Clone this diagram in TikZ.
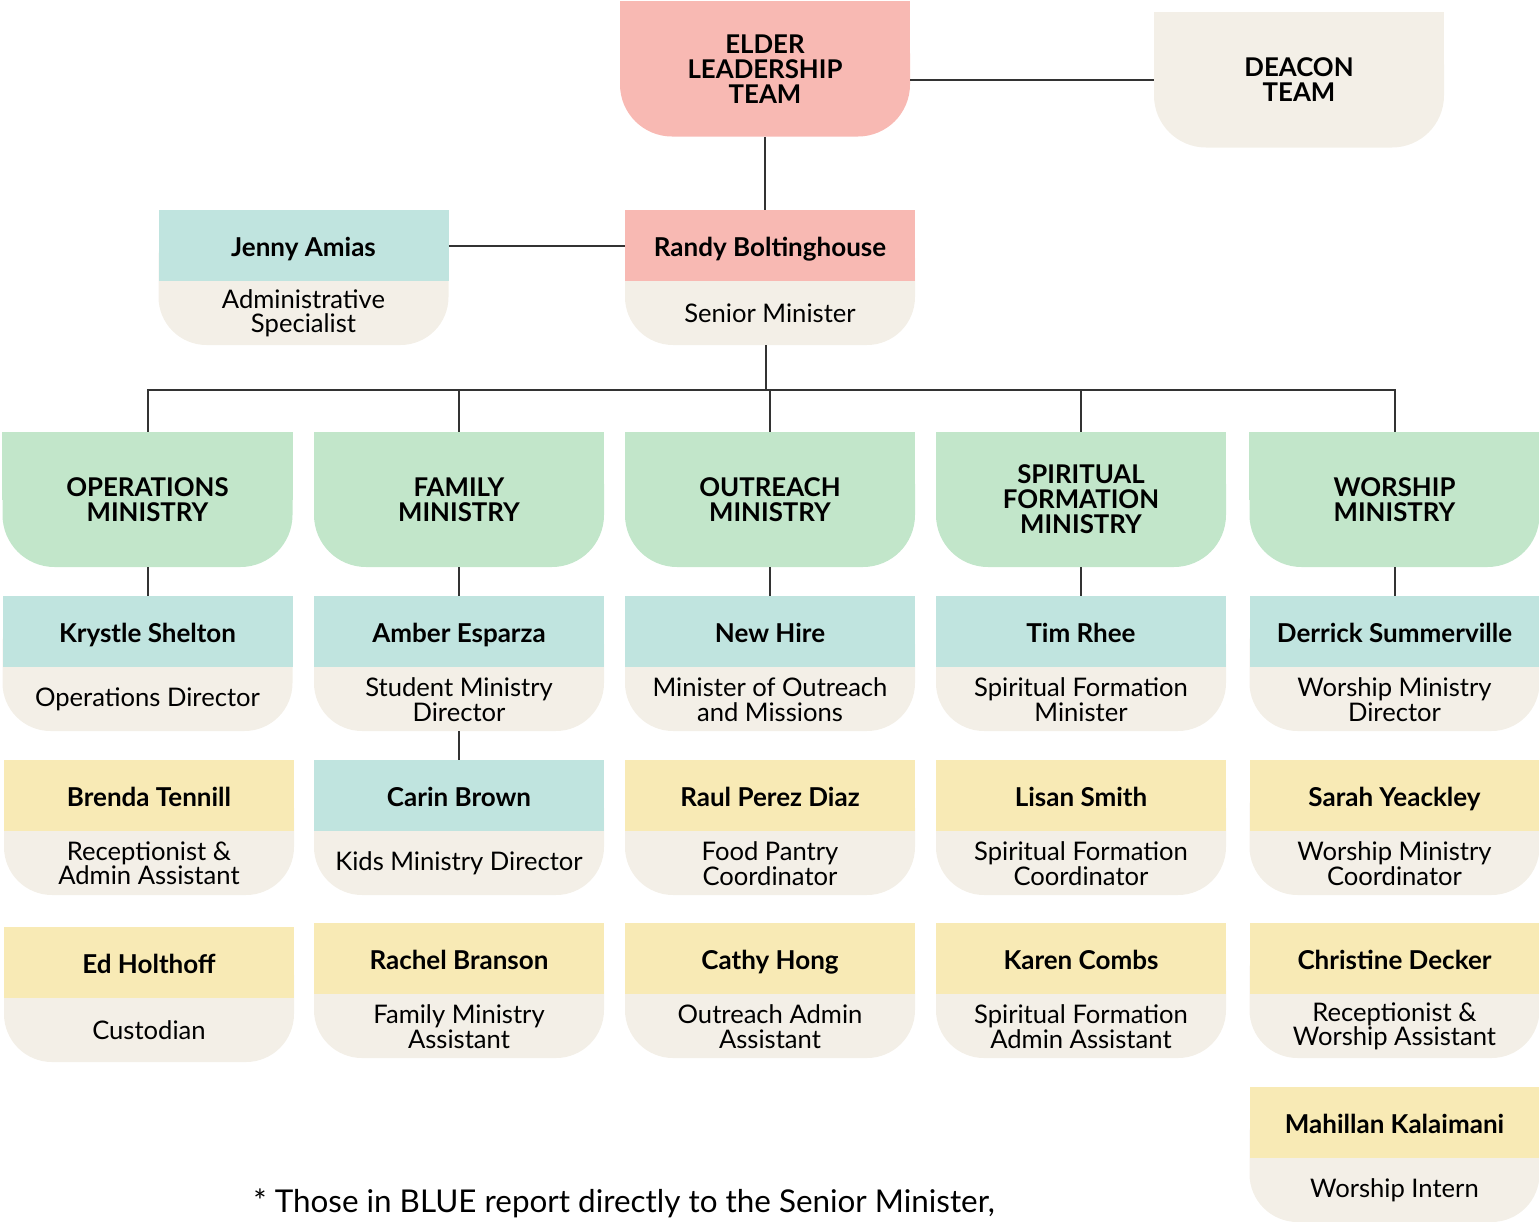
\documentclass[tikz,border=0pt]{standalone}
\usepackage{fontspec}
\setmainfont{Lato}
\usepackage{xcolor}
\usepackage{tikz}
\usetikzlibrary{calc,backgrounds}

\definecolor{elderpink}{HTML}{F8B9B3}
\definecolor{cream}{HTML}{F3EFE7}
\definecolor{staffblue}{HTML}{C0E4DF}
\definecolor{minigreen}{HTML}{C2E6CA}
\definecolor{assistyellow}{HTML}{F8EAB5}
\definecolor{linegray}{HTML}{333333}

\begin{document}
\begin{tikzpicture}[
    x=0.5pt, y=-0.5pt,
    font=\fontsize{12.8}{12.5}\selectfont,
    card/.style={rectangle, fill=cream, rounded corners=24pt, minimum width=145pt, minimum height=67.5pt, inner sep=0pt},
    head/.style={rectangle, anchor=north, minimum width=145pt, minimum height=35.5pt, inner sep=0pt, text height=12pt, text depth=1.2pt, font=\bfseries\fontsize{13}{13}\selectfont},
    role/.style={align=center, inner sep=0pt, font=\fontsize{12.8}{12.3}\selectfont},
    group/.style={rectangle, rounded corners=26pt, minimum width=145pt, minimum height=67.5pt, inner sep=0pt, align=center, font=\bfseries\fontsize{12.9}{12.5}\selectfont},
    link/.style={draw=linegray, line width=1pt}
]
    \useasboundingbox (0,0) rectangle (1539,1222);

    % --- Top: Elders and Deacons ---
    \node[group, fill=elderpink] (elt) at (765,69) {ELDER\\LEADERSHIP\\TEAM};
    \node[group, fill=cream] (dct) at (1299,80) {DEACON\\TEAM};

    % --- Senior Minister and Admin ---
    \node[card] (rb) at (770,277.5) {};
    \node[head, fill=elderpink] (rb-n) at (rb.north) {Randy Boltinghouse};
    \node[role] (rb-r) at ($(rb-n.south)!0.5!(rb.south)$) {Senior Minister};

    \node[card] (ja) at (303.5,277.5) {};
    \node[head, fill=staffblue] (ja-n) at (ja.north) {Jenny Amias};
    \node[role] (ja-r) at ($(ja-n.south)!0.5!(ja.south)$) {Administrative\\Specialist};

    % --- Ministries ---
    \node[group, fill=minigreen] (ops) at (147.5,499.5) {OPERATIONS\\MINISTRY};
    \node[group, fill=minigreen] (fam) at (459,499.5) {FAMILY\\MINISTRY};
    \node[group, fill=minigreen] (out) at (770,499.5) {OUTREACH\\MINISTRY};
    \node[group, fill=minigreen] (spf) at (1081,499.5) {SPIRITUAL\\FORMATION\\MINISTRY};
    \node[group, fill=minigreen] (wor) at (1394.5,499.5) {WORSHIP\\MINISTRY};

    % --- Row 1: Directors (Blue) ---
    \node[card] (ks) at (147.5,663.5) {};
    \node[head, fill=staffblue] (ks-n) at (ks.north) {Krystle Shelton};
    \node[role] (ks-r) at ($(ks-n.south)!0.5!(ks.south)$) {Operations Director};

    \node[card] (ae) at (459,663.5) {};
    \node[head, fill=staffblue] (ae-n) at (ae.north) {Amber Esparza};
    \node[role] (ae-r) at ($(ae-n.south)!0.5!(ae.south)$) {Student Ministry\\Director};

    \node[card] (nh) at (770,663.5) {};
    \node[head, fill=staffblue] (nh-n) at (nh.north) {New Hire};
    \node[role] (nh-r) at ($(nh-n.south)!0.5!(nh.south)$) {Minister of Outreach\\and Missions};

    \node[card] (tr) at (1081,663.5) {};
    \node[head, fill=staffblue] (tr-n) at (tr.north) {Tim Rhee};
    \node[role] (tr-r) at ($(tr-n.south)!0.5!(tr.south)$) {Spiritual Formation\\Minister};

    \node[card] (ds) at (1394.5,663.5) {};
    \node[head, fill=staffblue] (ds-n) at (ds.north) {Derrick Summerville};
    \node[role] (ds-r) at ($(ds-n.south)!0.5!(ds.south)$) {Worship Ministry\\Director};

    % --- Row 2 ---
    \node[card] (bt) at (149,827.5) {};
    \node[head, fill=assistyellow] (bt-n) at (bt.north) {Brenda Tennill};
    \node[role] (bt-r) at ($(bt-n.south)!0.5!(bt.south)$) {Receptionist \&\\Admin Assistant};

    \node[card] (cb) at (459,827.5) {};
    \node[head, fill=staffblue] (cb-n) at (cb.north) {Carin Brown};
    \node[role] (cb-r) at ($(cb-n.south)!0.5!(cb.south)$) {Kids Ministry Director};

    \node[card] (rpd) at (770,827.5) {};
    \node[head, fill=assistyellow] (rpd-n) at (rpd.north) {Raul Perez Diaz};
    \node[role] (rpd-r) at ($(rpd-n.south)!0.5!(rpd.south)$) {Food Pantry\\Coordinator};

    \node[card] (ls) at (1081,827.5) {};
    \node[head, fill=assistyellow] (ls-n) at (ls.north) {Lisan Smith};
    \node[role] (ls-r) at ($(ls-n.south)!0.5!(ls.south)$) {Spiritual Formation\\Coordinator};

    \node[card] (sy) at (1394.5,827.5) {};
    \node[head, fill=assistyellow] (sy-n) at (sy.north) {Sarah Yeackley};
    \node[role] (sy-r) at ($(sy-n.south)!0.5!(sy.south)$) {Worship Ministry\\Coordinator};

    % --- Row 3 ---
    \node[card] (eh) at (149,994.5) {};
    \node[head, fill=assistyellow] (eh-n) at (eh.north) {Ed Holthoff};
    \node[role] (eh-r) at ($(eh-n.south)!0.5!(eh.south)$) {Custodian};

    \node[card] (rbr) at (459,990.5) {};
    \node[head, fill=assistyellow] (rbr-n) at (rbr.north) {Rachel Branson};
    \node[role] (rbr-r) at ($(rbr-n.south)!0.5!(rbr.south)$) {Family Ministry\\Assistant};

    \node[card] (ch) at (770,990.5) {};
    \node[head, fill=assistyellow] (ch-n) at (ch.north) {Cathy Hong};
    \node[role] (ch-r) at ($(ch-n.south)!0.5!(ch.south)$) {Outreach Admin\\Assistant};

    \node[card] (kc) at (1081,990.5) {};
    \node[head, fill=assistyellow] (kc-n) at (kc.north) {Karen Combs};
    \node[role] (kc-r) at ($(kc-n.south)!0.5!(kc.south)$) {Spiritual Formation\\Admin Assistant};

    \node[card] (cd) at (1394.5,990.5) {};
    \node[head, fill=assistyellow] (cd-n) at (cd.north) {Christine Decker};
    \node[role] (cd-r) at ($(cd-n.south)!0.5!(cd.south)$) {Receptionist \&\\Worship Assistant};

    % --- Row 4 ---
    \node[card] (mk) at (1394.5,1154.5) {};
    \node[head, fill=assistyellow] (mk-n) at (mk.north) {Mahillan Kalaimani};
    \node[role] (mk-r) at ($(mk-n.south)!0.5!(mk.south)$) {Worship Intern};

    % Square tops of the group boxes
    \begin{scope}[on background layer]
        \fill[elderpink] (elt.north west) rectangle (elt.east);
        \fill[cream] (dct.north west) rectangle (dct.east);
        \fill[minigreen] (ops.north west) rectangle (ops.east);
        \fill[minigreen] (fam.north west) rectangle (fam.east);
        \fill[minigreen] (out.north west) rectangle (out.east);
        \fill[minigreen] (spf.north west) rectangle (spf.east);
        \fill[minigreen] (wor.north west) rectangle (wor.east);
    \end{scope}

    % Reporting lines
    \coordinate (bus) at (766,390);
    \draw[link] (dct.west) -- (dct.west -| elt.east);
    \draw[link] (elt.south) -- (elt.south |- rb.north);
    \draw[link] (ja-n.east) -- (rb-n.west);
    \draw[link] (bus |- rb.south) -- (bus);
    \draw[link] (ops.north) |- (bus) -| (wor.north);
    \draw[link] (fam.north) -- (fam.north |- bus);
    \draw[link] (out.north) -- (out.north |- bus);
    \draw[link] (spf.north) -- (spf.north |- bus);
    \draw[link] (ops.south) -- (ks.north);
    \draw[link] (fam.south) -- (ae.north);
    \draw[link] (out.south) -- (nh.north);
    \draw[link] (spf.south) -- (tr.north);
    \draw[link] (wor.south) -- (ds.north);
    \draw[link] (ae.south) -- (cb.north);

    \node[anchor=base west, inner sep=0pt, font=\fontsize{15.7}{18}\selectfont] (note) at (253,1212) {* Those in BLUE report directly to the Senior Minister,};

\end{tikzpicture}
\end{document}
